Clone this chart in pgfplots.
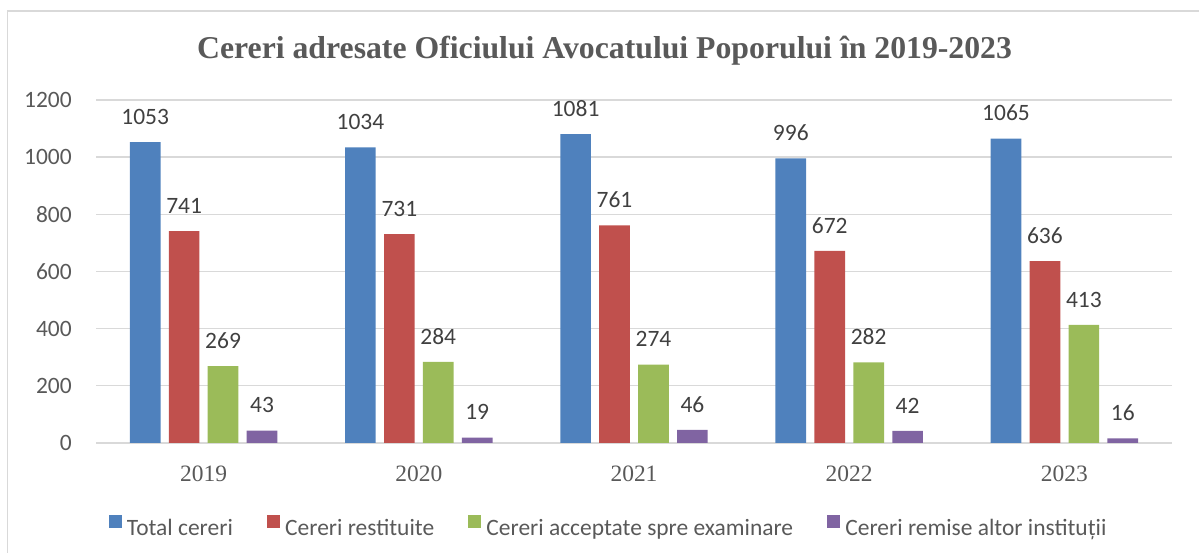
\documentclass[border=0pt]{standalone}
\usepackage{fontspec}
\setmainfont{Liberation Serif}
\newfontfamily\carlito{Carlito}
\usepackage{pgfplots}
\usepackage{pgfplotstable}
\pgfplotsset{compat=1.18}

\definecolor{cblue}{HTML}{4F81BD}
\definecolor{cred}{HTML}{C0504D}
\definecolor{cgreen}{HTML}{9BBB59}
\definecolor{cpurple}{HTML}{8064A2}
\definecolor{gridgray}{HTML}{D9D9D9}
\definecolor{labgray}{HTML}{595959}
\definecolor{datagray}{HTML}{404040}

% year index, then the four series
\pgfplotstableread{
x total restituite acceptate remise
0 1053 741 269 43
1 1034 731 284 19
2 1081 761 274 46
3 996  672 282 42
4 1065 636 413 16
}\datatable

\begin{document}
\begin{tikzpicture}
\path[use as bounding box] (0,0) rectangle (899.25bp,414.75bp);
% chart frame (partly cut off, as in the original)
\draw[gridgray, line width=1bp] (5.5bp,-10bp) -- (5.5bp,406.5bp) -- (910bp,406.5bp);
\node[anchor=base, inner sep=0pt, text=labgray, font=\bfseries\fontsize{23.9}{28}\selectfont]
  at (453.4bp,370.5bp) {Cereri adresate Oficiului Avocatului Poporului în 2019-2023};

\begin{axis}[
  at={(72bp,82.5bp)}, anchor=south west,
  scale only axis, width=807bp, height=257.25bp,
  xmin=-0.5, xmax=4.5, ymin=0, ymax=1200,
  enlargelimits=false,
  ybar, bar width=23bp,
  legend image code/.code={\fill[#1] (0bp,0bp) rectangle (10bp,10bp);},
  axis line style={draw=none},
  major tick length=0pt,
  ymajorgrids, grid style={gridgray, line width=1bp},
  ytick={0,200,...,1200},
  xtick={0,1,2,3,4},
  xticklabels={2019,2020,2021,2022,2023},
  /pgf/number format/assume math mode=true,
  /pgf/number format/1000 sep={},
  yticklabel style={font=\carlito\fontsize{17.66}{20}\selectfont, text=labgray,
                    inner sep=0pt, xshift=-18bp},
  xticklabel style={font=\fontsize{17.66}{20}\selectfont, text=labgray,
                    anchor=base, inner sep=0pt, yshift=-29bp},
  nodes near coords,
  nodes near coords style={font=\carlito\fontsize{17.66}{20}\selectfont, text=datagray,
                           anchor=base, inner sep=0pt, yshift=13.3bp},
  legend columns=-1,
  legend style={draw=none, fill=none, at={(axis description cs:0.4754,-0.242)}, anchor=center,
                font=\carlito\fontsize{17.66}{20}\selectfont, text=labgray,
                nodes={inner sep=0pt},
                /tikz/every odd column/.append style={column sep=3.75bp},
                /tikz/every even column/.append style={column sep=25.5bp}},
]
\addplot[fill=cblue, draw=none, bar shift=-43.8bp] table[x=x, y=total] {\datatable};
\addlegendentry{Total cereri}
\addplot[fill=cred, draw=none, bar shift=-14.6bp] table[x=x, y=restituite] {\datatable};
\addlegendentry{Cereri restituite}
\addplot[fill=cgreen, draw=none, bar shift=14.6bp] table[x=x, y=acceptate] {\datatable};
\addlegendentry{Cereri acceptate spre examinare}
\addplot[fill=cpurple, draw=none, bar shift=43.8bp] table[x=x, y=remise] {\datatable};
\addlegendentry{Cereri remise altor instituții}
\end{axis}
\end{tikzpicture}
\end{document}
